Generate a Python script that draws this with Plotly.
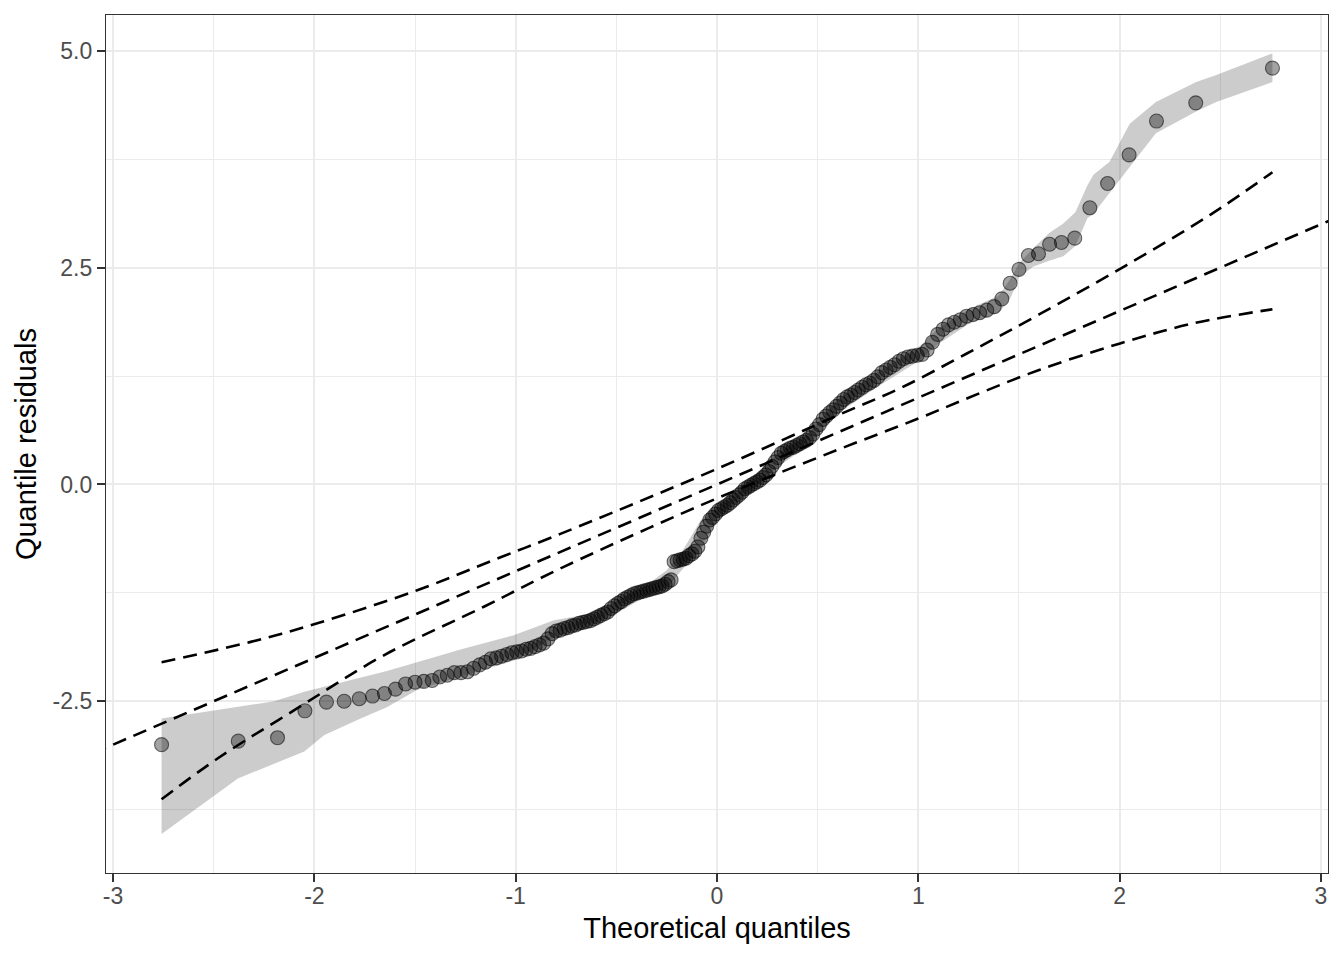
import plotly.graph_objects as go

# theoretical normal quantiles (x) and sorted quantile residuals (y)
theoretical_q = [
    -2.759, -2.378, -2.183, -2.047, -1.940, -1.852, -1.777, -1.711, -1.652, -1.597,
    -1.547, -1.500, -1.456, -1.415, -1.377, -1.340, -1.305, -1.272, -1.240, -1.209,
    -1.179, -1.150, -1.123, -1.096, -1.070, -1.044, -1.019, -0.995, -0.971, -0.948,
    -0.926, -0.904, -0.882, -0.861, -0.840, -0.819, -0.799, -0.779, -0.759, -0.740,
    -0.721, -0.702, -0.684, -0.665, -0.647, -0.629, -0.612, -0.594, -0.577, -0.560,
    -0.543, -0.526, -0.509, -0.492, -0.476, -0.460, -0.444, -0.428, -0.412, -0.396,
    -0.380, -0.365, -0.349, -0.334, -0.319, -0.303, -0.288, -0.273, -0.258, -0.243,
    -0.228, -0.213, -0.198, -0.183, -0.168, -0.154, -0.139, -0.124, -0.110, -0.095,
    -0.080, -0.066, -0.051, -0.036, -0.022, -0.007,
    0.007, 0.022, 0.036, 0.051, 0.066, 0.080, 0.095, 0.110, 0.124, 0.139,
    0.154, 0.168, 0.183, 0.198, 0.213, 0.228, 0.243, 0.258, 0.273, 0.288,
    0.303, 0.319, 0.334, 0.349, 0.365, 0.380, 0.396, 0.412, 0.428, 0.444,
    0.460, 0.476, 0.492, 0.509, 0.526, 0.543, 0.560, 0.577, 0.594, 0.612,
    0.629, 0.647, 0.665, 0.684, 0.702, 0.721, 0.740, 0.759, 0.779, 0.799,
    0.819, 0.840, 0.861, 0.882, 0.904, 0.926, 0.948, 0.971, 0.995, 1.019,
    1.044, 1.070, 1.096, 1.123, 1.150, 1.179, 1.209, 1.240, 1.272, 1.305,
    1.340, 1.377, 1.415, 1.456, 1.500, 1.547, 1.597, 1.652, 1.711, 1.777,
    1.852, 1.940, 2.047, 2.183, 2.378, 2.759,
]
residuals = [
    -3.00, -2.96, -2.92, -2.61, -2.51, -2.50, -2.47, -2.44, -2.41, -2.36,
    -2.30, -2.28, -2.27, -2.26, -2.22, -2.20, -2.17, -2.17, -2.16, -2.12,
    -2.08, -2.05, -2.01, -2.00, -1.98, -1.96, -1.94, -1.93, -1.92, -1.90,
    -1.89, -1.87, -1.85, -1.83, -1.78, -1.72, -1.69, -1.68, -1.66, -1.65,
    -1.63, -1.62, -1.60, -1.59, -1.58, -1.57, -1.55, -1.53, -1.51, -1.49,
    -1.47, -1.43, -1.40, -1.37, -1.35, -1.32, -1.30, -1.28, -1.26, -1.25,
    -1.24, -1.23, -1.22, -1.21, -1.20, -1.19, -1.18, -1.17, -1.15, -1.12,
    -1.10, -0.89, -0.88, -0.87, -0.86, -0.85, -0.82, -0.80, -0.77, -0.72,
    -0.62, -0.55, -0.48, -0.41, -0.38, -0.34,
    -0.30, -0.28, -0.26, -0.24, -0.21, -0.18, -0.15, -0.12, -0.09, -0.05,
    -0.03, -0.01, 0.01, 0.03, 0.05, 0.08, 0.11, 0.15, 0.21, 0.26,
    0.31, 0.36, 0.38, 0.40, 0.42, 0.43, 0.45, 0.47, 0.49, 0.51,
    0.54, 0.58, 0.64, 0.69, 0.75, 0.79, 0.83, 0.86, 0.90, 0.94,
    0.98, 1.01, 1.03, 1.06, 1.09, 1.12, 1.15, 1.17, 1.20, 1.24,
    1.29, 1.32, 1.35, 1.38, 1.42, 1.45, 1.47, 1.48, 1.49, 1.50,
    1.55, 1.64, 1.73, 1.79, 1.84, 1.87, 1.90, 1.94, 1.96, 1.98,
    2.01, 2.05, 2.14, 2.32, 2.48, 2.64, 2.66, 2.77, 2.79, 2.84,
    3.19, 3.47, 3.80, 4.19, 4.40, 4.80,
]

# grey envelope around the points
band_x = [-2.759, -2.38, -2.2, -2.05, -1.95, -1.77, -1.64, -1.49, -1.27, -1.01,
          -0.81, -0.65, -0.51, -0.35, -0.25, -0.18, -0.08, 0.0, 0.15, 0.3,
          0.45, 0.6, 0.8, 1.0, 1.1, 1.25, 1.4, 1.46, 1.5, 1.57,
          1.65, 1.72, 1.78, 1.84, 1.87, 1.95, 2.05, 2.18, 2.38, 2.48, 2.759]
band_upper = [-2.70, -2.56, -2.50, -2.39, -2.33, -2.22, -2.15, -2.05, -1.90, -1.74,
              -1.565, -1.50, -1.36, -1.16, -0.99, -0.80, -0.41, -0.25, 0.03, 0.35,
              0.58, 0.98, 1.30, 1.58, 1.80, 2.02, 2.18, 2.38, 2.55, 2.72,
              2.90, 3.01, 3.14, 3.45, 3.57, 3.72, 4.16, 4.41, 4.64, 4.72, 4.97]
band_lower = [-4.03, -3.39, -3.22, -3.08, -2.89, -2.70, -2.57, -2.37, -2.21, -2.03,
              -1.76, -1.66, -1.50, -1.29, -1.20, -1.00, -0.75, -0.40, -0.12, 0.20,
              0.44, 0.82, 1.13, 1.42, 1.62, 1.85, 1.98, 2.16, 2.39, 2.51,
              2.58, 2.63, 2.75, 3.07, 3.12, 3.36, 3.66, 4.05, 4.30, 4.41, 4.64]

# reference line y = x and the two dashed confidence curves
ref_x = [-3.2, 3.2]
ref_y = [-3.2, 3.2]
upper_x = [-2.759, -2.316, -1.985, -1.489, -1.075, -0.778, 0.0, 0.612, 0.91,
           1.241, 1.6, 2.035, 2.448, 2.759]
upper_y = [-2.05, -1.815, -1.60, -1.22, -0.84, -0.57, 0.18, 0.81, 1.11,
           1.51, 1.96, 2.53, 3.106, 3.60]
lower_x = [-2.759, -2.481, -2.084, -1.655, -1.158, -0.761, 0.0, 0.6, 1.0,
           1.25, 1.6, 2.002, 2.365, 2.759]
lower_y = [-3.63, -3.16, -2.58, -1.97, -1.41, -0.95, -0.16, 0.40, 0.76,
           1.00, 1.32, 1.626, 1.857, 2.02]

fig = go.Figure()
fig.add_trace(go.Scatter(
    x=band_x + band_x[::-1],
    y=band_upper + band_lower[::-1],
    fill='toself', fillcolor='rgba(0,0,0,0.2)',
    mode='lines', line=dict(width=0),
    hoverinfo='skip', showlegend=False
))
fig.add_trace(go.Scatter(
    x=theoretical_q, y=residuals, mode='markers',
    marker=dict(size=14, color='rgba(0,0,0,0.36)',
                line=dict(color='rgba(0,0,0,0.55)', width=1.1)),
    showlegend=False
))
dash = dict(color='black', width=2.6, dash='14px,8px')
fig.add_trace(go.Scatter(x=ref_x, y=ref_y, mode='lines', line=dash, showlegend=False))
fig.add_trace(go.Scatter(x=upper_x, y=upper_y, mode='lines',
                         line=dict(dash, shape='spline'), showlegend=False))
fig.add_trace(go.Scatter(x=lower_x, y=lower_y, mode='lines',
                         line=dict(dash, shape='spline'), showlegend=False))

axis_common = dict(
    showgrid=True, gridcolor='#EBEBEB', gridwidth=2,
    zeroline=False, automargin=False,
    showline=True, mirror=True, linecolor='#333333', linewidth=1.3,
    ticks='outside', ticklen=8, tickwidth=1.6, tickcolor='#333333',
    tickfont=dict(family='Liberation Sans', size=23, color='#4D4D4D'),
)
# the page puts the figure 8px in from the top-left corner
fig.update_layout(
    width=1336, height=952,
    paper_bgcolor='white', plot_bgcolor='white',
    margin=dict(l=98, r=16, t=7, b=87),
    font=dict(family='Liberation Sans'),
    xaxis=dict(
        axis_common,
        range=[-3.035, 3.035],
        tickvals=[-3, -2, -1, 0, 1, 2, 3],
        ticktext=['-3', '-2', '-1', '0', '1', '2', '3'],
        ticklabelstandoff=-6,
        minor=dict(tickvals=[-2.5, -1.5, -0.5, 0.5, 1.5, 2.5], showgrid=True,
                   gridcolor='#EBEBEB', gridwidth=1, ticks=''),
        title=dict(text='Theoretical quantiles', standoff=9,
                   font=dict(family='Liberation Sans', size=29, color='black')),
    ),
    yaxis=dict(
        axis_common,
        range=[-4.48, 5.413],
        tickvals=[-2.5, 0, 2.5, 5.0],
        ticktext=['-2.5', '0.0', '2.5', '5.0'],
        minor=dict(tickvals=[-3.75, -1.25, 1.25, 3.75], showgrid=True,
                   gridcolor='#EBEBEB', gridwidth=1, ticks=''),
        title=dict(text='Quantile residuals', standoff=7,
                   font=dict(family='Liberation Sans', size=29, color='black')),
    ),
)
fig.write_html("out.html")
